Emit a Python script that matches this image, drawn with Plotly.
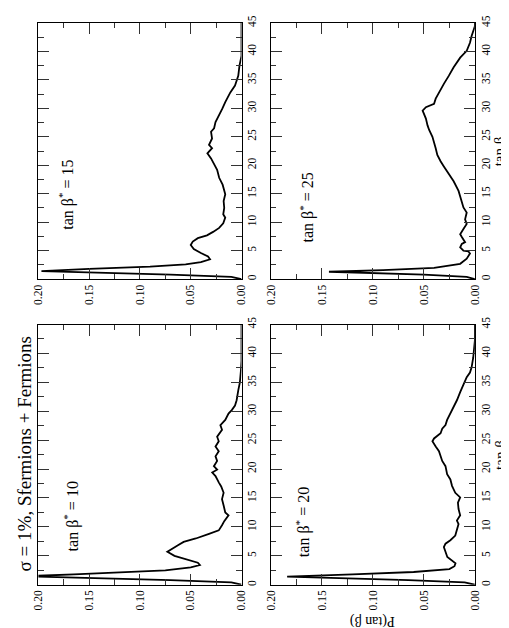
import plotly.graph_objects as go

# ---------------- data ----------------
tanb_10 = [0, 0.4, 0.8, 1.1, 1.45, 1.8, 2.1, 2.5, 3.0, 3.4, 3.8, 4.4, 5.0, 5.7, 6.2,
           6.8, 7.4, 8.0, 8.8, 9.4, 10.3, 11.0, 12.0, 12.5, 13.7, 14.8, 15.9, 17.0, 17.7, 18.8,
           19.4, 19.9, 20.5, 21.4, 22.2, 23.1, 23.9, 24.8, 25.6, 26.8, 27.6, 28.5, 29.6, 30.2, 31.0,
           31.9, 33.6, 35.0, 37.0, 38.7, 41.0, 45.0]
prob_10 = [0, 0.01, 0.07, 0.15, 0.215, 0.165, 0.12, 0.075, 0.05, 0.041, 0.043, 0.055, 0.066, 0.073, 0.069,
           0.063, 0.057, 0.045, 0.032, 0.0224, 0.0192, 0.017, 0.0128, 0.016, 0.0176, 0.0192, 0.0176, 0.02, 0.0224, 0.0256,
           0.0288, 0.024, 0.0272, 0.024, 0.0256, 0.0224, 0.0256, 0.0224, 0.024, 0.0192, 0.0208, 0.016, 0.0128, 0.0096, 0.0064,
           0.0048, 0.0032, 0.0016, 0.0006, 0, 0, 0]

tanb_15 = [0, 0.4, 0.8, 1.1, 1.4, 1.8, 2.2, 2.6, 3.0, 3.5, 4.0, 4.6, 5.3, 6.0, 6.6,
           7.2, 7.7, 8.3, 9.0, 9.8, 10.8, 11.4, 12.5, 13.7, 14.9, 16.6, 17.8, 19.2, 19.8, 21.2,
           22.1, 23.0, 23.6, 24.7, 25.9, 26.5, 27.6, 28.8, 29.9, 31.1, 32.8, 34.0, 34.9, 35.7, 37.5,
           39.2, 42.0, 45.0]
prob_15 = [0, 0.01, 0.07, 0.14, 0.197, 0.15, 0.09, 0.055, 0.04, 0.031, 0.033, 0.04, 0.047, 0.05, 0.048,
           0.043, 0.034, 0.028, 0.022, 0.018, 0.016, 0.018, 0.017, 0.0176, 0.016, 0.0186, 0.022, 0.024, 0.0256, 0.030,
           0.0336, 0.029, 0.032, 0.029, 0.030, 0.027, 0.0256, 0.022, 0.019, 0.016, 0.011, 0.0064, 0.0048, 0.0032, 0.002,
           0, 0, 0]

tanb_20 = [0, 0.4, 0.8, 1.1, 1.4, 1.8, 2.2, 2.7, 3.2, 3.7, 4.3, 4.8, 5.7, 6.5, 7.1,
           7.7, 8.5, 9.7, 10.5, 11.1, 12.0, 13.1, 14.2, 15.1, 15.9, 17.1, 18.2, 19.1, 20.5, 21.4,
           22.2, 23.1, 23.9, 24.8, 25.3, 26.2, 27.0, 27.6, 28.5, 29.6, 30.8, 31.9, 33.3, 34.5, 35.9,
           36.7, 37.6, 39.3, 42.2, 45.0]
prob_20 = [0, 0.01, 0.065, 0.13, 0.184, 0.12, 0.06, 0.025, 0.02, 0.019, 0.024, 0.027, 0.0288, 0.0304, 0.0288,
           0.024, 0.0192, 0.0176, 0.016, 0.0176, 0.0144, 0.016, 0.0166, 0.0144, 0.0192, 0.0224, 0.024, 0.0272, 0.0288, 0.032,
           0.0336, 0.0352, 0.0384, 0.0416, 0.04, 0.0336, 0.032, 0.0288, 0.0272, 0.024, 0.0208, 0.0176, 0.0144, 0.0112, 0.008,
           0.0048, 0.0032, 0.0016, 0, 0]

tanb_25 = [0, 0.4, 0.8, 1.0, 1.3, 1.6, 2.0, 2.7, 3.6, 4.5, 4.9, 5.0, 5.6, 6.2, 6.5,
           7.4, 7.9, 8.8, 9.7, 10.5, 11.7, 12.6, 13.7, 15.5, 17.2, 18.4, 19.8, 20.7, 21.8, 23.0,
           24.1, 25.0, 26.2, 27.0, 28.2, 29.6, 30.2, 30.8, 31.7, 32.8, 34.3, 35.7, 37.2, 38.9, 40.1,
           41.5, 42.7, 44.4, 45.0]
prob_25 = [0, 0.008, 0.05, 0.1, 0.143, 0.09, 0.04, 0.0144, 0.008, 0.0048, 0.0064, 0.0112, 0.0144, 0.0128, 0.0096,
           0.0128, 0.0144, 0.0112, 0.008, 0.0096, 0.008, 0.0112, 0.0128, 0.016, 0.0208, 0.0256, 0.0304, 0.0336, 0.0368, 0.0384,
           0.04, 0.0416, 0.0448, 0.0464, 0.048, 0.0512, 0.048, 0.04, 0.0384, 0.0352, 0.0304, 0.0256, 0.0208, 0.0144, 0.008,
           0.0048, 0.0032, 0, 0]

panel_labels = ["15", "25", "10", "20"]
title_text = "σ = 1%, Sfermions + Fermions"
p_ticks = [0.00, 0.05, 0.10, 0.15, 0.20]
tanb_ticks = [0, 5, 10, 15, 20, 25, 30, 35, 40, 45]

# ---------------- layout helpers ----------------
W, H = 509, 628
FONT = "Liberation Serif"


def fx(px):
    return px / W


def fy(py):
    return 1 - py / H


# pixel boxes of the four (rotated) panels: (left, right, top, bottom)
boxes = [(25, 233, 7, 267), (263, 472, 7, 267), (25, 233, 313, 577), (263, 472, 313, 577)]
series = [(tanb_15, prob_15), (tanb_25, prob_25), (tanb_10, prob_10), (tanb_20, prob_20)]
# annotation centres in data units (P, tan beta)
label_pos = [(0.172, 14.8), (0.164, 12.5), (0.167, 11.8), (0.168, 10.9)]

fig = go.Figure()
layout = dict(
    width=W, height=H,
    margin=dict(l=0, r=0, t=0, b=0),
    paper_bgcolor="white", plot_bgcolor="white",
    showlegend=False,
    font=dict(family=FONT, color="black"),
)
annotations = []

for i, ((l, r, t, b), (tb, pv)) in enumerate(zip(boxes, series)):
    n = "" if i == 0 else str(i + 1)
    fig.add_trace(go.Scatter(x=pv, y=tb, mode="lines",
                             line=dict(color="black", width=1.8),
                             xaxis="x" + n, yaxis="y" + n, hoverinfo="skip"))
    common = dict(
        showgrid=False, zeroline=False, showline=True, linecolor="black", linewidth=1,
        mirror="ticks", ticks="inside", ticklen=11, tickwidth=1, tickcolor="#333",
        tickangle=-90, tickfont=dict(family=FONT, size=11.5, color="black"),
    )
    layout["xaxis" + n] = dict(
        common, domain=[fx(l), fx(r)], range=[0.2, 0.0], anchor="y" + n,
        tickmode="array", tickvals=p_ticks, ticktext=["%.2f" % v for v in p_ticks],
        minor=dict(dtick=0.025, tick0=0, ticks="inside", ticklen=5.5, tickwidth=1, tickcolor="#333"),
        side="bottom",
    )
    layout["yaxis" + n] = dict(
        common, domain=[fy(b), fy(t)], range=[0, 45], anchor="x" + n,
        tickmode="array", tickvals=tanb_ticks, ticktext=[str(v) for v in tanb_ticks],
        minor=dict(dtick=2.5, tick0=0, ticks="inside", ticklen=5.5, tickwidth=1, tickcolor="#333"),
        side="right",
    )
    px_, ty_ = label_pos[i]
    annotations.append(dict(
        xref="x" + n, yref="y" + n, x=px_, y=ty_, showarrow=False, textangle=-90,
        text="tan β<sup>*</sup> = " + panel_labels[i],
        font=dict(family=FONT, size=16, color="black"), xanchor="center", yanchor="middle"))

# tan beta axis titles (right column)
for yc in [(7 + 267) / 2, (313 + 577) / 2]:
    annotations.append(dict(xref="paper", yref="paper", x=fx(497), y=fy(yc), showarrow=False,
                            textangle=-90, text="tan β",
                            font=dict(family=FONT, size=15, color="black"),
                            xanchor="center", yanchor="middle"))
# P(tan beta) title (upside down, under bottom-right panel)
annotations.append(dict(xref="paper", yref="paper", x=fx(367), y=fy(614), showarrow=False,
                        textangle=180, text="P(tan β)",
                        font=dict(family=FONT, size=14, color="black"),
                        xanchor="center", yanchor="middle"))
# overall title (left edge, reading bottom to top)
annotations.append(dict(xref="paper", yref="paper", x=fx(11), y=fy(444), showarrow=False,
                        textangle=-90, text=title_text,
                        font=dict(family=FONT, size=19, color="black"),
                        xanchor="center", yanchor="middle"))

layout["annotations"] = annotations
fig.update_layout(**layout)
fig.write_html("out.html")
